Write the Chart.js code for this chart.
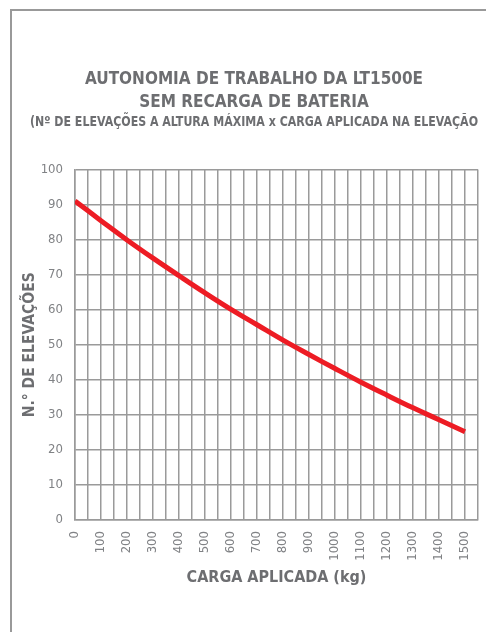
<!DOCTYPE html>
<html>
<head>
<meta charset="utf-8">
<script src="https://cdn.jsdelivr.net/npm/chart.js@4"></script>
<style>
  html, body { margin: 0; padding: 0; background: #fff; overflow: hidden; }
  #moldura { position: absolute; left: 10px; top: 9px; width: 600px; height: 700px; border: 2px solid #999; }
  #grafico { position: absolute; left: 0; top: 0; }
</style>
</head>
<body>
<div id="moldura"></div>
<canvas id="grafico" width="486" height="632"></canvas>
<script>
const cargaKg = [0, 100, 200, 300, 400, 500, 600, 700, 800, 900, 1000, 1100, 1200, 1300, 1400, 1500];
const elevacoes = [91, 85.4, 79.9, 74.7, 69.7, 64.8, 60.1, 55.7, 51.3, 47.2, 43.2, 39.3, 35.6, 32, 28.6, 25.2];
const tituloLinhas = ["AUTONOMIA DE TRABALHO DA LT1500E", "SEM RECARGA DE BATERIA"];
const subtitulo = "(Nº DE ELEVAÇÕES A ALTURA MÁXIMA x CARGA APLICADA NA ELEVAÇÃO";
const eixoX = { min: 0, max: 1550, passo: 50, ultimoRotulo: 1500 };
const eixoY = { min: 0, max: 100, passo: 10 };

const fonte = "'Liberation Sans Narrow', 'DejaVu Sans Condensed', 'Arial Narrow', sans-serif";
const cinzaTexto = '#6d6e71';
const cinzaGrade = '#9a9a9a';

document.addEventListener('DOMContentLoaded', function() {
  const ctx = document.getElementById('grafico').getContext('2d');

  new Chart(ctx, {
    type: 'line',
    data: {
      datasets: [{
        data: cargaKg.map((kg, i) => ({ x: kg, y: elevacoes[i] })),
        borderColor: '#ed1c24',
        borderWidth: 5,
        pointRadius: 0,
        tension: 0.4,
        fill: false
      }]
    },
    options: {
      responsive: false,
      animation: false,
      layout: { padding: { left: 30, right: 8, top: 0, bottom: 0 } },
      plugins: {
        legend: { display: false },
        tooltip: { enabled: false },
        title: {
          display: true,
          text: tituloLinhas,
          color: cinzaTexto,
          font: { family: fonte, size: 17, weight: 'bold', lineHeight: 1.32 },
          padding: { top: 68.8, bottom: 0 }
        },
        subtitle: {
          display: true,
          text: subtitulo,
          color: cinzaTexto,
          font: { family: fonte, size: 14, weight: 'bold', lineHeight: 1.2 },
          padding: { top: 0, bottom: 39 }
        }
      },
      scales: {
        x: {
          type: 'linear',
          min: eixoX.min,
          max: eixoX.max,
          afterFit: function(scale) {
            scale.height = 112;
            scale.paddingLeft = 0;
            scale.paddingRight = 0;
          },
          grid: { color: cinzaGrade, lineWidth: 1.5, drawTicks: false },
          border: { color: cinzaGrade, width: 1.5 },
          ticks: {
            stepSize: eixoX.passo,
            autoSkip: false,
            minRotation: 90,
            maxRotation: 90,
            padding: 11,
            color: '#808285',
            font: { family: fonte, size: 13 },
            callback: function(v) {
              return (v % 100 === 0 && v <= eixoX.ultimoRotulo) ? v : '';
            }
          },
          title: {
            display: true,
            text: 'CARGA APLICADA (kg)',
            color: cinzaTexto,
            font: { family: fonte, size: 16, weight: 'bold', lineHeight: 1.2 },
            padding: { top: 0, bottom: 44.4 }
          }
        },
        y: {
          min: eixoY.min,
          max: eixoY.max,
          afterFit: function(scale) {
            scale.width = 45;
            scale.paddingTop = 0;
            scale.paddingBottom = 0;
          },
          grid: { color: cinzaGrade, lineWidth: 1.5, drawTicks: false },
          border: { color: cinzaGrade, width: 1.5 },
          ticks: {
            stepSize: eixoY.passo,
            padding: 12,
            color: '#808285',
            font: { family: fonte, size: 13 }
          },
          title: {
            display: true,
            text: 'N.° DE ELEVAÇÕES',
            color: cinzaTexto,
            font: { family: fonte, size: 15.5, weight: 'bold', lineHeight: 1.2 },
            padding: { top: -9.3, bottom: 0 }
          }
        }
      }
    }
  });
});
</script>
</body>
</html>
